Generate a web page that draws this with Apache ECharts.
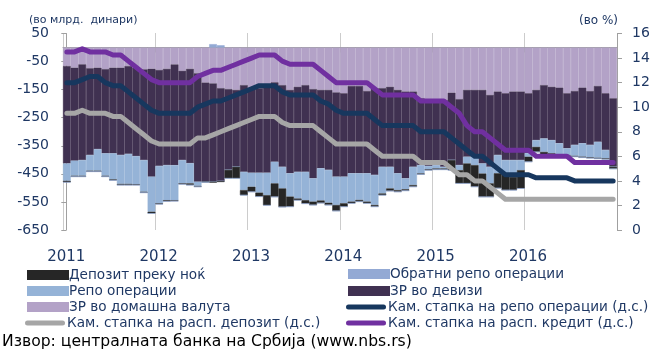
<!DOCTYPE html>
<html><head><meta charset="utf-8">
<script src="https://cdn.jsdelivr.net/npm/echarts@6/dist/echarts.min.js"></script>
<style>html,body{margin:0;padding:0;background:#fff}#chart{width:656px;height:351px}</style>
</head><body><div id="chart"></div>
<script>
// Calendar years on the horizontal axis (monthly columns)
const years = ['2011', '2012', '2013', '2014', '2015', '2016'];

// Liquidity instruments, bn denars (monthly)
const overnightDeposit = [
  -5,-3,-3,-3,-3,-3,-3,-4,-4,-3,-3,-6,
  -3,-4,-3,-3,-6,-3,-2,-3,-3,-30,-41,-18,
  -18,-14,-36,-48,-66,-36,-6,-12,-12,-9,-8,-21,
  -12,-6,-6,-6,-6,-6,-9,-6,-5,-6,-3,-3,
  -4,-4,-36,-47,-71,-77,-83,-48,-53,-60,-47,-65,
  -18,-18,-12,-6,-3,-3,-3,-3,-3,-3,-3,-7
];
const reverseRepo = [
  0,0,0,0,0,0,0,0,0,0,0,0,
  0,0,0,0,0,0,0,12,8,0,0,0,
  0,0,0,0,0,0,0,0,0,0,0,0,
  0,0,0,0,0,0,0,0,0,0,0,0,
  0,0,0,0,0,0,0,0,0,0,0,0,
  0,0,0,0,0,0,0,0,0,0,0,0
];
const repoOps = [
  -62,-54,-56,-56,-77,-80,-93,-103,-107,-100,-113,-125,
  -133,-125,-125,-83,-72,-15,0,0,0,0,0,-65,
  -50,-71,-80,-77,-77,-83,-95,-101,-83,-115,-117,-101,
  -95,-101,-95,-101,-107,-95,-77,-60,-39,-65,-30,-12,
  -12,-6,0,-18,-24,-30,-36,-59,-65,-47,-60,-36,
  -13,-24,-48,-47,-42,-24,-39,-48,-44,-57,-30,0
];
const reservesFx = [
  -347,-331,-341,-309,-290,-300,-305,-311,-313,-315,-323,-384,
  -342,-343,-359,-318,-336,-386,-353,-350,-331,-288,-274,-309,
  -301,-301,-306,-283,-291,-297,-303,-309,-318,-279,-285,-300,
  -297,-311,-311,-293,-309,-280,-285,-297,-309,-268,-238,-235,
  -232,-238,-240,-235,-238,-238,-262,-256,-226,-238,-244,-244,
  -213,-179,-190,-190,-198,-196,-192,-198,-192,-199,-202,-244
];
const reservesDinar = [
  -66,-72,-60,-74,-72,-77,-72,-72,-66,-72,-78,-76,
  -80,-76,-60,-83,-76,-92,-125,-128,-145,-148,-151,-134,
  -145,-145,-140,-124,-134,-151,-140,-134,-148,-151,-151,-160,
  -163,-137,-137,-155,-145,-145,-140,-151,-157,-157,-181,-187,
  -187,-187,-161,-184,-151,-151,-151,-169,-157,-163,-157,-157,
  -163,-151,-134,-140,-143,-163,-155,-143,-155,-137,-163,-181
];

// Interest rates, % (right axis)
const repoRate = [
  12.0,12.0,12.25,12.5,12.5,12.0,11.75,11.75,11.25,10.75,10.25,9.75,
  9.5,9.5,9.5,9.5,9.5,10.0,10.25,10.5,10.5,10.75,11.0,11.25,
  11.5,11.75,11.75,11.75,11.25,11.0,11.0,11.0,11.0,10.5,10.25,9.75,
  9.5,9.5,9.5,9.5,9.0,8.5,8.5,8.5,8.5,8.5,8.0,8.0,
  8.0,8.0,7.5,7.0,6.5,6.0,6.0,5.5,5.0,4.5,4.5,4.5,
  4.5,4.25,4.25,4.25,4.25,4.25,4.0,4.0,4.0,4.0,4.0,4.0
];
const depositRate = [
  9.5,9.5,9.75,9.5,9.5,9.5,9.25,9.25,8.75,8.25,7.75,7.25,
  7.0,7.0,7.0,7.0,7.0,7.5,7.5,7.75,8.0,8.25,8.5,8.75,
  9.0,9.25,9.25,9.25,8.75,8.5,8.5,8.5,8.5,8.0,7.5,7.0,
  7.0,7.0,7.0,7.0,6.5,6.0,6.0,6.0,6.0,6.0,5.5,5.5,
  5.5,5.5,5.0,4.5,4.5,4.0,4.0,3.5,3.0,2.5,2.5,2.5,
  2.5,2.5,2.5,2.5,2.5,2.5,2.5,2.5,2.5,2.5,2.5,2.5
];
const lendingRate = [
  14.5,14.5,14.75,14.5,14.5,14.5,14.25,14.25,13.75,13.25,12.75,12.25,
  12.0,12.0,12.0,12.0,12.0,12.5,12.75,13.0,13.0,13.25,13.5,13.75,
  14.0,14.25,14.25,14.25,13.75,13.5,13.5,13.5,13.5,13.0,12.5,12.0,
  12.0,12.0,12.0,12.0,11.5,11.0,11.0,11.0,11.0,11.0,10.5,10.5,
  10.5,10.5,10.0,9.5,8.5,8.0,8.0,7.5,7.0,6.5,6.5,6.5,
  6.5,6.0,6.0,6.0,6.0,6.0,5.5,5.5,5.5,5.5,5.5,5.5
];

// Left axis: -650 … 50 step 100; right axis: 0 … 16 step 2
const leftTicks = [-650, -550, -450, -350, -250, -150, -50, 50];
const rightTicks = [0, 2, 4, 6, 8, 10, 12, 14, 16];

const months = [];
years.forEach(y => { for (let m = 1; m <= 12; m++) months.push(y + '-' + (m < 10 ? '0' : '') + m); });

const FONT = 'DejaVu Sans';
const NAVY = '#1f3864';
const AXIS_GRAY = '#a0a0a0';
const lineIcon = 'path://M2.5,0 L37.5,0 A2.5,2.5 0 0 1 37.5,5 L2.5,5 A2.5,2.5 0 0 1 2.5,0 Z';

function barSeries(name, data, color) {
  return {
    name, type: 'bar', stack: 'liq', data,
    barCategoryGap: '0%',
    itemStyle: { color, borderColor: color, borderWidth: 0.5 },
    emphasis: { disabled: true },
    z: 2
  };
}
function rateSeries(name, data, color) {
  return {
    name, type: 'line', yAxisIndex: 1, data,
    symbol: 'none', color,
    lineStyle: { color, width: 5, cap: 'round', join: 'round' },
    emphasis: { disabled: true },
    z: 5
  };
}

// One legend block per entry, laid out as two columns of four rows
const legendText = { fontFamily: FONT, fontSize: 13.6, color: NAVY, lineHeight: 16, padding: [0, 0, 0, -4] };
function legendItem(name, left, rowCenter, isLine) {
  return {
    data: [name], orient: 'vertical', left, top: rowCenter - 8, padding: 0,
    itemWidth: isLine ? 42 : 40, itemHeight: isLine ? 5 : 8,
    icon: isLine ? lineIcon : 'rect', selectedMode: false, textStyle: legendText
  };
}

const chart = echarts.init(document.getElementById('chart'), null, { renderer: 'canvas' });
chart.setOption({
  animation: false,
  backgroundColor: '#ffffff',
  grid: { left: 63, right: 39, top: 33.5, bottom: 121, containLabel: false },
  xAxis: [
    {
      type: 'category', data: months, boundaryGap: true,
      axisLine: { onZero: true, lineStyle: { color: AXIS_GRAY, width: 1 } },
      axisTick: { show: true, interval: 11, length: 5, lineStyle: { color: AXIS_GRAY } },
      axisLabel: { show: false },
      splitLine: { show: true, interval: 11, lineStyle: { color: '#9a9a9a', type: 'dotted', width: 1 } }
    },
    {
      type: 'value', position: 'bottom', min: -0.43, max: 71.57,
      axisLine: { show: false, onZero: false }, axisTick: { show: false }, splitLine: { show: false },
      axisLabel: {
        customValues: [0, 12, 24, 36, 48, 60],
        formatter: v => years[Math.round(v / 12)],
        margin: 20, fontFamily: FONT, fontSize: 15, color: NAVY
      }
    }
  ],
  yAxis: [
    {
      type: 'value', min: -650, max: 50, interval: 100, position: 'left',
      axisLine: { show: true, lineStyle: { color: AXIS_GRAY } },
      axisTick: { show: true, length: 5, lineStyle: { color: AXIS_GRAY }, customValues: leftTicks },
      axisLabel: { customValues: leftTicks, margin: 14, fontFamily: FONT, fontSize: 14, color: NAVY },
      splitLine: { show: false }
    },
    {
      type: 'value', min: 0, max: 16, interval: 2, position: 'right',
      axisLine: { show: true, lineStyle: { color: AXIS_GRAY } },
      axisTick: { show: true, length: 5, lineStyle: { color: AXIS_GRAY }, customValues: rightTicks },
      axisLabel: { customValues: rightTicks, margin: 15, fontFamily: FONT, fontSize: 14, color: NAVY },
      splitLine: { show: false }
    }
  ],
  legend: [
    legendItem('Депозит преку ноќ', 27, 275, false),
    legendItem('Репо операции', 27, 291, false),
    legendItem('ЗР во домашна валута', 27, 307, false),
    legendItem('Кам. стапка на расп. депозит (д.с.)', 25, 323, true),
    legendItem('Обратни репо операции', 348, 274, false),
    legendItem('ЗР во девизи', 348, 291, false),
    legendItem('Кам. стапка на репо операции (д.с.)', 346, 307, true),
    legendItem('Кам. стапка на расп. кредит (д.с.)', 346, 323, true)
  ],
  graphic: [
    { type: 'text', left: 29, top: 15, style: { text: '(во млрд.  динари)', font: '11px "DejaVu Sans"', fill: NAVY } },
    { type: 'text', left: 579, top: 15, style: { text: '(во %)', font: '12px "DejaVu Sans"', fill: NAVY } },
    { type: 'text', left: 2, top: 334, style: { text: 'Извор: централната банка на Србија (www.nbs.rs)', font: '15.6px "DejaVu Sans"', fill: '#000000' } }
  ],
  series: [
    barSeries('ЗР во домашна валута', reservesDinar, '#b3a2c7'),
    barSeries('ЗР во девизи', reservesFx, '#403151'),
    barSeries('Репо операции', repoOps, '#95b3d7'),
    barSeries('Депозит преку ноќ', overnightDeposit, '#262626'),
    barSeries('Обратни репо операции', reverseRepo, '#93a9d4'),
    rateSeries('Кам. стапка на расп. депозит (д.с.)', depositRate, '#a6a6a6'),
    rateSeries('Кам. стапка на репо операции (д.с.)', repoRate, '#17375e'),
    rateSeries('Кам. стапка на расп. кредит (д.с.)', lendingRate, '#7030a0')
  ]
});
</script></body></html>
